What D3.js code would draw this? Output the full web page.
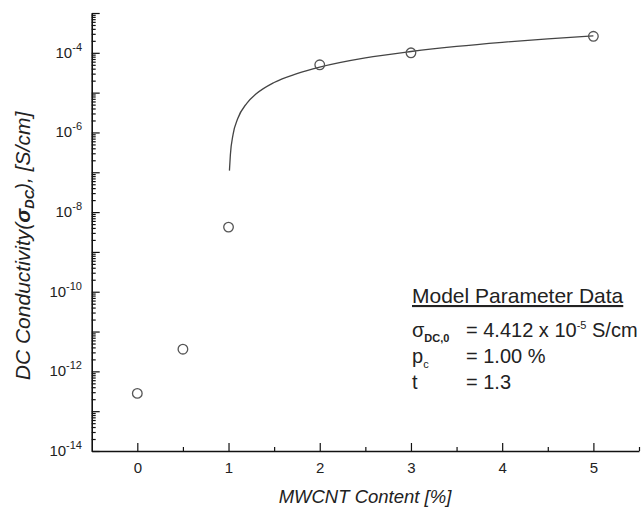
<!DOCTYPE html>
<html>
<head>
<meta charset="utf-8">
<script src="https://cdn.jsdelivr.net/npm/d3@7"></script>
<style>
  body { margin: 0; background: #fff; }
  text { font-family: "Liberation Sans", Arial, sans-serif; fill: #222; }
</style>
</head>
<body>
<div id="chart"></div>
<script>
// measured points
var contentPct = [0, 0.5, 1, 2, 3, 5];
var conductivity = [2.8e-13, 3.6e-12, 4.2e-9, 5.0e-5, 1.0e-4, 2.6e-4];

// fitted curve
var fitContent = [1.01, 1.02, 1.05, 1.1, 1.2, 1.3, 1.5, 1.75, 2, 2.5, 3, 3.5, 4, 4.5, 5];
var fitConductivity = [1.1e-7, 2.7e-7, 9e-7, 2.2e-6, 5.4e-6, 9.2e-6, 1.8e-5, 3.0e-5, 4.4e-5, 7.5e-5, 1.08e-4, 1.45e-4, 1.84e-4, 2.25e-4, 2.67e-4];

// ticks
var xMajor = [0, 1, 2, 3, 4, 5];
var xMinor = [0.5, 1.5, 2.5, 3.5, 4.5, 5.5];
var yDecades = d3.range(-14, -2);          // -14 .. -3
var yLabelExps = [-14, -12, -10, -8, -6, -4];

// legend text
var legendTitle = "Model Parameter Data";
var legendValues = ["= 4.412 x 10", "= 1.00 %", "= 1.3"];

var width = 642, height = 510;

var svg = d3.select("#chart")
  .append("svg")
    .attr("width", width)
    .attr("height", height);

var x = d3.scaleLinear()
  .domain([-0.5, 5.5])
  .range([91.7, 639]);

var y = d3.scaleLog()
  .domain([1e-14, 1e-3])
  .range([451, 13]);

// minor ticks
var yMinor = [];
yDecades.slice(0, -1).forEach(function(e) {
  for (var m = 2; m <= 9; m++) yMinor.push(m * Math.pow(10, e));
});

svg.append("g")
  .attr("transform", "translate(91.7,0)")
  .call(d3.axisLeft(y).tickValues(yMinor).tickSize(-4).tickFormat(""))
  .call(function(g) { g.select(".domain").remove(); });

svg.append("g")
  .attr("transform", "translate(0,451)")
  .call(d3.axisBottom(x).tickValues(xMinor).tickSize(-4).tickFormat(""))
  .call(function(g) { g.select(".domain").remove(); });

// major ticks + axis lines
var yAxis = svg.append("g")
  .attr("transform", "translate(91.7,0)")
  .call(d3.axisLeft(y)
    .tickValues(yDecades.map(function(e) { return Math.pow(10, e); }))
    .tickSize(-8).tickSizeOuter(0).tickFormat(""));

var xAxis = svg.append("g")
  .attr("transform", "translate(0,451)")
  .call(d3.axisBottom(x).tickValues(xMajor).tickSize(-8).tickSizeOuter(0)
    .tickPadding(11).tickFormat(d3.format("d")));

svg.selectAll(".domain").attr("stroke", "#111").attr("stroke-width", 1.6);
svg.selectAll(".tick line").attr("stroke", "#111").attr("stroke-width", 1.2);
xAxis.selectAll(".tick text")
  .attr("fill", "#222")
  .style("font-size", "15px")
  .style("font-family", "Liberation Sans, Arial, sans-serif");

// y tick labels 10^n
var yLab = svg.append("g").selectAll("text")
  .data(yLabelExps)
  .enter()
  .append("text")
    .attr("x", 82)
    .attr("y", function(d) { return y(Math.pow(10, d)) + 5; })
    .attr("text-anchor", "end")
    .style("font-size", "15px");
yLab.append("tspan").text("10");
yLab.append("tspan")
  .attr("dy", -7)
  .style("font-size", "11px")
  .text(function(d) { return "-" + Math.abs(d); });

// fitted curve
var line = d3.line()
  .x(function(d, i) { return x(fitContent[i]); })
  .y(function(d) { return y(d); })
  .curve(d3.curveMonotoneX);

svg.append("path")
  .datum(fitConductivity)
  .attr("d", line)
  .attr("fill", "none")
  .attr("stroke", "#444")
  .attr("stroke-width", 1.3);

// data points
svg.selectAll("circle.pt")
  .data(conductivity)
  .enter()
  .append("circle")
    .attr("class", "pt")
    .attr("cx", function(d, i) { return x(contentPct[i]); })
    .attr("cy", function(d) { return y(d); })
    .attr("r", 4.8)
    .attr("fill", "none")
    .attr("stroke", "#555")
    .attr("stroke-width", 1.3);

// axis titles
svg.append("text")
  .attr("x", 365)
  .attr("y", 503)
  .attr("text-anchor", "middle")
  .style("font-size", "18.5px")
  .style("font-style", "italic")
  .text("MWCNT Content [%]");

var yt = svg.append("text")
  .attr("transform", "translate(30,246) rotate(-90)")
  .attr("text-anchor", "middle")
  .style("font-size", "21px")
  .style("font-style", "italic");
yt.append("tspan").text("DC Conductivity(");
yt.append("tspan").style("font-weight", "bold").text("σ");
yt.append("tspan").attr("dy", 4).style("font-size", "13px").style("font-weight", "bold").text("DC");
yt.append("tspan").attr("dy", -4).text("), [S/cm]");

// legend
var lg = svg.append("g").style("font-size", "20px");
lg.append("text")
  .attr("x", 412).attr("y", 303)
  .style("font-size", "21px")
  .style("text-decoration", "underline")
  .text(legendTitle);

var s = lg.append("text").attr("x", 412).attr("y", 337);
s.append("tspan").text("σ");
s.append("tspan").attr("dy", 5).style("font-size", "11px").style("font-weight", "bold").text("DC,0");

var p = lg.append("text").attr("x", 412).attr("y", 363);
p.append("tspan").text("p");
p.append("tspan").attr("dy", 5).style("font-size", "11px").text("c");

lg.append("text").attr("x", 412).attr("y", 389).text("t");

var vals = lg.selectAll("text.val")
  .data(legendValues)
  .enter()
  .append("text")
    .attr("class", "val")
    .attr("x", 466)
    .attr("y", function(d, i) { return 337 + i * 26; })
    .text(function(d) { return d; });

var v0 = d3.select(vals.nodes()[0]);
v0.append("tspan").attr("dy", -8).style("font-size", "11px").text("-5");
v0.append("tspan").attr("dy", 8).text(" S/cm");
</script>
</body>
</html>
